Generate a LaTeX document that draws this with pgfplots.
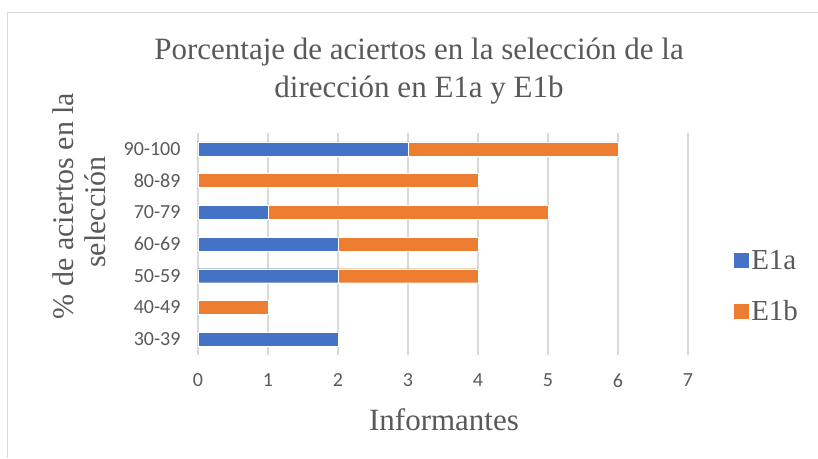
\documentclass[border=0pt]{standalone}
\usepackage{fontspec}
\setmainfont{Liberation Serif}
\newfontfamily\calibri{Carlito}
\usepackage{pgfplots}
\pgfplotsset{compat=1.18}

\definecolor{txtgray}{HTML}{595959}
\definecolor{gridgray}{HTML}{D9D9D9}
\definecolor{eblue}{HTML}{4472C4}
\definecolor{eorange}{HTML}{ED7D31}

\begin{document}
\begin{tikzpicture}[x=1pt,y=1pt]
\path[use as bounding box] (0,0) rectangle (818,458);
\draw[gridgray,line width=1pt] (7,0) -- (7,445) -- (818,445);

% title
\node[anchor=base,text=txtgray,font=\fontsize{31}{31}\selectfont] at (419,398) {Porcentaje de aciertos en la selección de la};
\node[anchor=base,text=txtgray,font=\fontsize{31}{31}\selectfont] at (419,360) {dirección en E1a y E1b};

% y label (two lines)
\node[rotate=90,anchor=center,text=txtgray,font=\fontsize{30}{30}\selectfont] at (63,252) {\% de aciertos en la};
\node[rotate=90,anchor=center,text=txtgray,font=\fontsize{30}{30}\selectfont] at (95,246) {selección};

% x label
\node[anchor=base,text=txtgray,font=\fontsize{31}{31}\selectfont] at (444,28) {Informantes};

\begin{axis}[
  scale only axis,
  width=490pt, height=222pt,
  at={(198pt,103pt)}, anchor=south west,
  xbar stacked,
  bar width=14pt,
  xmin=0, xmax=7,
  ymin=-0.5, ymax=6.5,
  xtick={0,1,2,3,4,5,6,7},
  ytick={0,1,2,3,4,5,6},
  yticklabels={30-39,40-49,50-59,60-69,70-79,80-89,90-100},
  /pgf/number format/assume math mode=true,
  xmajorgrids,
  grid style={gridgray,line width=1.2pt},
  axis line style={draw=none},
  major tick length=0pt,
  ticklabel style={text=txtgray,font=\calibri\fontsize{20}{20}\selectfont},
  yticklabel style={xshift=-14pt},
  xticklabel style={yshift=-15pt},
  legend style={at={(1.085,0.31)},anchor=west,draw=none,fill=none,
    font=\fontsize{29}{29}\selectfont,text=txtgray,row sep=26pt,
    nodes={inner sep=2pt}},
  legend cell align=left,
  legend image code/.code={\fill[#1] (0pt,-8pt) rectangle (16pt,8pt);},
]
\addplot[fill=eblue,draw=white,line width=0.4pt] coordinates {(2,0) (0,1) (2,2) (2,3) (1,4) (0,5) (3,6)};
\addplot[fill=eorange,draw=white,line width=0.4pt] coordinates {(0,0) (1,1) (2,2) (2,3) (4,4) (4,5) (3,6)};
\legend{E1a,E1b}
\end{axis}
\end{tikzpicture}
\end{document}
